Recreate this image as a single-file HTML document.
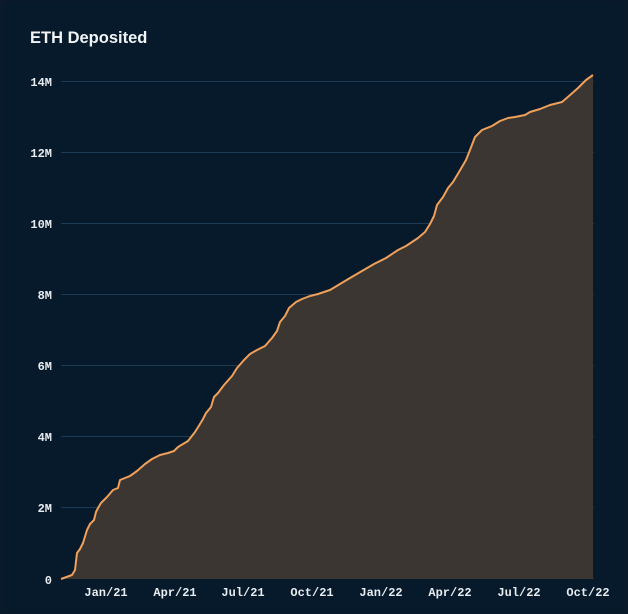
<!DOCTYPE html>
<html><head><style>
html,body{margin:0;padding:0;background:#0a1a2a;}
body{width:628px;height:614px;overflow:hidden;font-family:"Liberation Sans",sans-serif;}
.card{position:absolute;left:4px;top:2px;width:620px;height:610px;background:#071a2c;border-radius:4px;}
</style></head><body>
<div class="card"></div>
<svg width="628" height="614" style="position:absolute;left:0;top:0">
<text x="30" y="43" fill="#f1f4f6" font-family="Liberation Sans, sans-serif" font-size="16.5" font-weight="bold">ETH Deposited</text>
<g stroke="#1c3a52" stroke-width="1">
<line x1="61" y1="81.5" x2="594" y2="81.5"/><line x1="61" y1="152.5" x2="594" y2="152.5"/>
<line x1="61" y1="223.5" x2="594" y2="223.5"/><line x1="61" y1="294.5" x2="594" y2="294.5"/>
<line x1="61" y1="365.5" x2="594" y2="365.5"/><line x1="61" y1="436.5" x2="594" y2="436.5"/>
<line x1="61" y1="507.5" x2="594" y2="507.5"/><line x1="61" y1="578.5" x2="594" y2="578.5"/>
</g>
<g fill="#e8ecef" font-family="Liberation Mono, monospace" font-size="12" font-weight="bold" text-anchor="end">
<text x="52" y="86">14M</text><text x="52" y="157">12M</text><text x="52" y="228">10M</text>
<text x="52" y="299">8M</text><text x="52" y="370">6M</text><text x="52" y="441">4M</text>
<text x="52" y="512">2M</text><text x="52" y="584">0</text>
</g>
<g fill="#e8ecef" font-family="Liberation Mono, monospace" font-size="12" font-weight="bold" text-anchor="middle">
<text x="106" y="596">Jan/21</text><text x="175" y="596">Apr/21</text><text x="243" y="596">Jul/21</text>
<text x="312" y="596">Oct/21</text><text x="381" y="596">Jan/22</text><text x="450" y="596">Apr/22</text>
<text x="519" y="596">Jul/22</text><text x="588" y="596">Oct/22</text>
</g>
<path fill="#3b3631" d="M61,579 L72,575 L75,570 L77,553 L80,549 L83,543 L87,530 L90,524 L94,520 L96,512 L98,508 L101,503 L107,497 L113,490 L118,488 L120,480 L125,478 L130,476 L137,471 L145,464 L152,459 L160,455 L168,453 L174,451 L178,447 L188,441 L195,432 L200,424 L203,419 L206,413 L211,407 L214,397 L218,393 L224,385 L232,376 L237,368 L244,360 L250,354 L257,350 L265,346 L272,338 L277,331 L280,322 L285,316 L289,308 L296,302 L302,299 L310,296 L318,294 L330,290 L340,284 L350,278 L362,271 L374,264 L386,258 L398,250 L406,246 L412,242 L418,238 L425,232 L430,224 L434,216 L437,205 L443,197 L448,188 L453,182 L459,172 L466,160 L470,150 L475,137 L482,130 L492,126 L500,121 L508,118 L515,117 L525,115 L530,112 L540,109 L550,105 L562,102 L569,96 L578,88 L586,80 L593,75 L593,579 Z"/>
<path fill="none" stroke="#f0a05a" stroke-width="2" stroke-linejoin="round" d="M61,579 L72,575 L75,570 L77,553 L80,549 L83,543 L87,530 L90,524 L94,520 L96,512 L98,508 L101,503 L107,497 L113,490 L118,488 L120,480 L125,478 L130,476 L137,471 L145,464 L152,459 L160,455 L168,453 L174,451 L178,447 L188,441 L195,432 L200,424 L203,419 L206,413 L211,407 L214,397 L218,393 L224,385 L232,376 L237,368 L244,360 L250,354 L257,350 L265,346 L272,338 L277,331 L280,322 L285,316 L289,308 L296,302 L302,299 L310,296 L318,294 L330,290 L340,284 L350,278 L362,271 L374,264 L386,258 L398,250 L406,246 L412,242 L418,238 L425,232 L430,224 L434,216 L437,205 L443,197 L448,188 L453,182 L459,172 L466,160 L470,150 L475,137 L482,130 L492,126 L500,121 L508,118 L515,117 L525,115 L530,112 L540,109 L550,105 L562,102 L569,96 L578,88 L586,80 L593,75"/>
</svg>
</body></html>
